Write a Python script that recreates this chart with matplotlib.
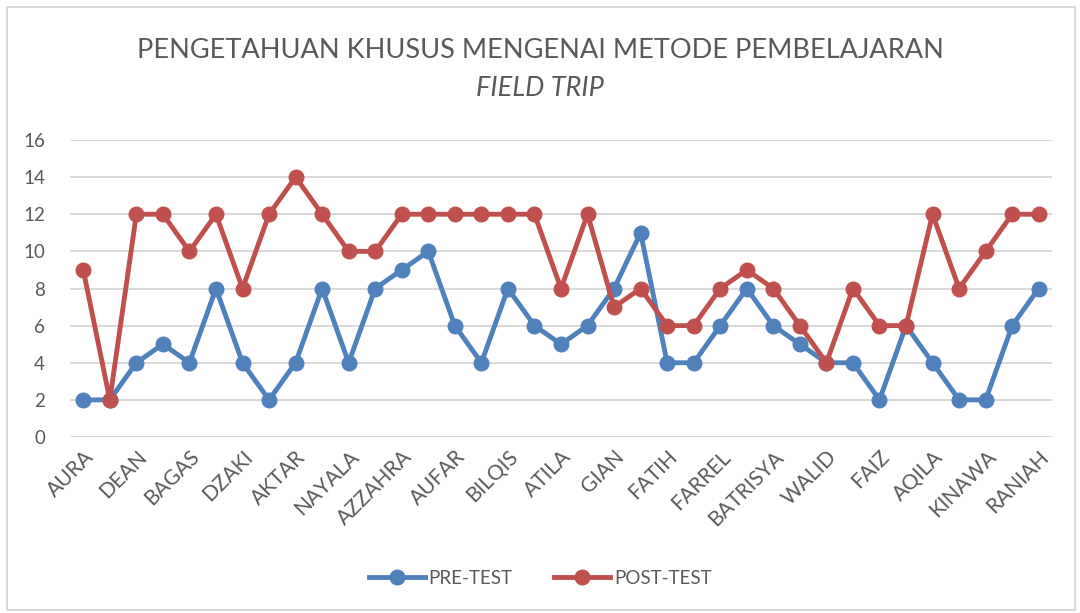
import matplotlib
matplotlib.use("Agg")
import matplotlib.pyplot as plt
from matplotlib.patches import Rectangle

plt.rcParams["font.family"] = ["Lato", "DejaVu Sans"]

# every second student is named on the axis; the others are unlabeled
labels = ["AURA", "", "DEAN", "", "BAGAS", "", "DZAKI", "", "AKTAR", "",
          "NAYALA", "", "AZZAHRA", "", "AUFAR", "", "BILQIS", "", "ATILA", "",
          "GIAN", "", "FATIH", "", "FARREL", "", "BATRISYA", "", "WALID", "",
          "FAIZ", "", "AQILA", "", "KINAWA", "", "RANIAH"]
pre_test = [2, 2, 4, 5, 4, 8, 4, 2, 4, 8, 4, 8, 9, 10, 6, 4, 8, 6, 5, 6,
            8, 11, 4, 4, 6, 8, 6, 5, 4, 4, 2, 6, 4, 2, 2, 6, 8]
post_test = [9, 2, 12, 12, 10, 12, 8, 12, 14, 12, 10, 10, 12, 12, 12, 12, 12, 12, 8, 12,
             7, 8, 6, 6, 8, 9, 8, 6, 4, 8, 6, 6, 12, 8, 10, 12, 12]

BLUE = "#4F81BD"
RED = "#C0504D"
TEXT = "#595959"
GRID = "#D9D9D9"

fig = plt.figure(figsize=(10.8, 6.13), dpi=100)
ax = fig.add_axes([70 / 1080, 1 - 437 / 613, 982 / 1080, 297 / 613])

x = list(range(len(labels)))
ax.plot(x, pre_test, color=BLUE, lw=3.5, marker="o", ms=10.5, label="PRE-TEST", zorder=3)
ax.plot(x, post_test, color=RED, lw=3.5, marker="o", ms=10.5, label="POST-TEST", zorder=4)

ax.set_xlim(-0.5, len(labels) - 0.5)
ax.set_ylim(0, 16)
ax.set_yticks(range(0, 17, 2))
ax.set_xticks(x)
ax.set_xticklabels(labels, rotation=45, ha="right", rotation_mode="anchor",
                   fontsize=15, color=TEXT)
ax.tick_params(axis="y", labelsize=13.5, labelcolor=TEXT, length=0, pad=18)
ax.tick_params(axis="x", length=0, pad=7)
ax.grid(axis="y", color=GRID, lw=1.4)
ax.set_axisbelow(True)
for s in ax.spines.values():
    s.set_visible(False)

fig.text(0.5, 1 - 50 / 613, "PENGETAHUAN KHUSUS MENGENAI METODE PEMBELAJARAN",
         ha="center", va="center", fontsize=19.5, color=TEXT)
fig.text(0.5, 1 - 88 / 613, "FIELD TRIP", ha="center", va="center",
         fontsize=19.5, color=TEXT, style="italic")

fig.legend(loc="center", bbox_to_anchor=(0.5, 1 - 578 / 613), ncol=2,
           frameon=False, fontsize=13.5, labelcolor=TEXT, handlelength=3,
           columnspacing=2.2, handletextpad=0.2)

fig.patches.append(Rectangle((7 / 1080, 3 / 613), 1068 / 1080, 603 / 613,
                             transform=fig.transFigure, fill=False,
                             edgecolor=GRID, lw=1.4))

fig.savefig("out.png", dpi=100)
